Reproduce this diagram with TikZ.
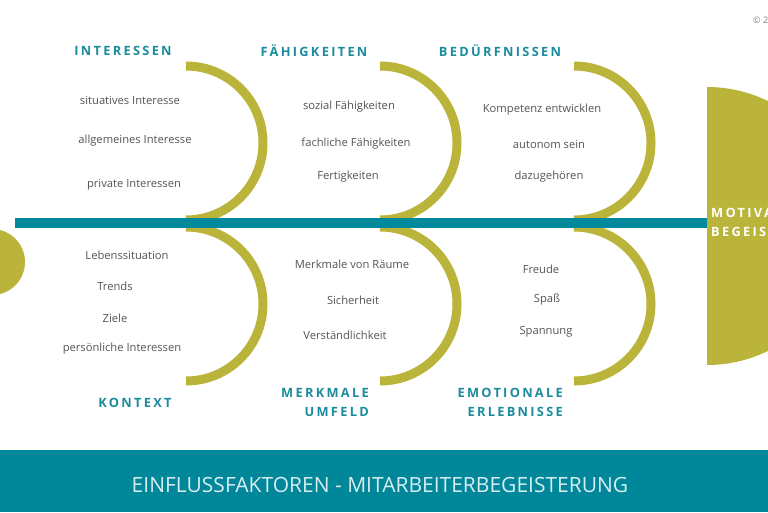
\documentclass[tikz,border=0pt]{standalone}
\usepackage{fontspec}
\setmainfont{Open Sans}
\newfontfamily\labfont[LetterSpace=18]{Open Sans}
\definecolor{olv}{HTML}{BAB53A}
\definecolor{tealbar}{HTML}{00889C}
\definecolor{tealban}{HTML}{00879A}
\definecolor{labteal}{HTML}{1A8C9E}
\definecolor{txtgray}{HTML}{555555}
\tikzset{
  arcline/.style={draw=olv, line width=9pt},
  item/.style={text=txtgray, font=\fontsize{11.2}{13}\selectfont, inner sep=0pt, anchor=center},
  lab/.style={text=labteal, font=\labfont\bfseries\fontsize{12.8}{19}\selectfont, inner sep=0pt, align=right},
}
\begin{document}
\begin{tikzpicture}[x=1pt,y=-1pt]
\useasboundingbox (0,0) rectangle (768,512);
\clip (0,0) rectangle (768,512);
\fill[white] (0,0) rectangle (768,512);
% arcs
\foreach \cx in {186,380,574}{
  \draw[arcline] (\cx,66) arc[start angle=-90, end angle=90, radius=77];
  \draw[arcline] (\cx,227) arc[start angle=-90, end angle=90, radius=77];
}
% bar
\fill[tealbar] (15,218) rectangle (740,228);
% side shapes
\fill[olv] (-8,262) circle[radius=33];
\fill[olv] (707,87) arc[start angle=-90, end angle=90, radius=139] -- cycle;
\node[text=white, font=\labfont\bfseries\fontsize{12.8}{19}\selectfont, anchor=west, align=left, inner sep=0pt] (goal) at (711,222) {MOTIVATION\\BEGEISTERUNG};
% copyright
\node[text=gray, font=\fontsize{9}{10}\selectfont, anchor=west, inner sep=0pt] (copy) at (753,20) {© 2};
% labels
\node[lab] (l1) at (123,51) {INTERESSEN};
\node[lab] (l2) at (314,51) {FÄHIGKEITEN};
\node[lab] (l3) at (500,51) {BEDÜRFNISSEN};
\node[lab] (l4) at (135,403) {KONTEXT};
\node[lab, anchor=east] (l5) at (369,402.5) {MERKMALE\\UMFELD};
\node[lab, anchor=east] (l6) at (563,402.5) {EMOTIONALE\\ERLEBNISSE};
% items
\node[item] (a1) at (130,100) {situatives Interesse};
\node[item] (a2) at (135,141) {allgemeines Interesse};
\node[item] (a3) at (134,185) {private Interessen};
\node[item] (b1) at (349,107) {sozial Fähigkeiten};
\node[item] (b2) at (356,144) {fachliche Fähigkeiten};
\node[item] (b3) at (348,177) {Fertigkeiten};
\node[item] (c1) at (542,110) {Kompetenz entwicklen};
\node[item] (c2) at (549,144) {autonom sein};
\node[item] (c3) at (549,177) {dazugehören};
\node[item] (d1) at (127,255) {Lebenssituation};
\node[item] (d2) at (115,286) {Trends};
\node[item] (d3) at (115,318) {Ziele};
\node[item] (d4) at (122,349) {persönliche Interessen};
\node[item] (e1) at (352,264) {Merkmale von Räume};
\node[item] (e2) at (353,300) {Sicherheit};
\node[item] (e3) at (345,335) {Verständlichkeit};
\node[item] (f1) at (541,269) {Freude};
\node[item] (f2) at (547,300) {Spaß};
\node[item] (f3) at (546,332) {Spannung};
% banner
\fill[tealban] (0,450) rectangle (768,512);
\node[text=white!85!tealban, font=\fontsize{21}{24}\selectfont, inner sep=0pt] (title) at (380,485) {EINFLUSSFAKTOREN - MITARBEITERBEGEISTERUNG};
\end{tikzpicture}
\end{document}
